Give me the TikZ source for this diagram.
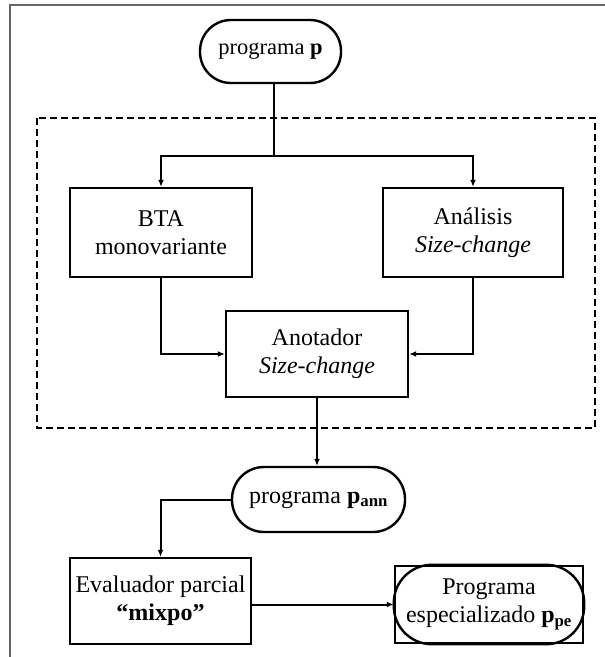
\documentclass[tikz,border=0pt]{standalone}
\usepackage{fontspec}
\setmainfont{Liberation Serif}
\usetikzlibrary{arrows.meta}
\tikzset{
  box/.style={draw, line width=2.4pt, align=center, inner sep=0pt},
  pill/.style={box, rounded corners=#1},
  link/.style={line width=2pt},
  arrow/.style={link, -{Latex[length=7pt,width=6pt]}}
}
\begin{document}
\begin{tikzpicture}[x=1pt,y=-1pt,font=\fontsize{24}{28}\selectfont]
\useasboundingbox (0,0) rectangle (605,657);
\draw[gray!80!black, line width=2pt] (10,657) -- (10,5) -- (605,5);
% contenedor
\draw[line width=2.2pt, dash pattern=on 7pt off 4pt] (37,118) rectangle (595,428);
% nodos
\node[pill=31pt, minimum width=141pt, minimum height=63pt, font=\fontsize{22.5}{26}\selectfont] (prog) at (270.5,51.5) {programa \textbf{p}};
\node[box, minimum width=182pt, minimum height=89pt] (bta) at (161,232.5) {BTA\\monovariante};
\node[box, minimum width=180pt, minimum height=89pt] (sca) at (473,232.5) {Análisis\\\textit{Size-change}};
\node[box, minimum width=182pt, minimum height=86pt] (anot) at (317,354) {Anotador\\\textit{Size-change}};
\node[pill=32pt, minimum width=173pt, minimum height=65pt] (pann) at (318.5,499.5) {programa \textbf{p\textsubscript{ann}}};
\node[box, minimum width=181pt, minimum height=86pt] (eval) at (160.5,601) {Evaluador parcial\\\textbf{“mixpo”}};
\node[box, minimum width=188pt, minimum height=77pt] (spec) at (489,604.5) {Programa\\especializado \textbf{p\textsubscript{pe}}};
\draw[line width=2.4pt, rounded corners=38pt] (spec.south west) rectangle (spec.north east);
\coordinate (split) at (274,156);
% conectores
\draw[link] (prog.south -| split) -- (split);
\draw[arrow] (split) -| (bta.north);
\draw[arrow] (split) -| (sca.north);
\draw[arrow] (bta.south) |- (anot.west);
\draw[arrow] (sca.south) |- (anot.east);
\draw[arrow] (anot.south) -- (anot.south |- pann.north);
\draw[arrow] (pann.west) -| (eval.north);
\draw[arrow] (eval.east |- spec.west) -- (spec.west);
\end{tikzpicture}
\end{document}
